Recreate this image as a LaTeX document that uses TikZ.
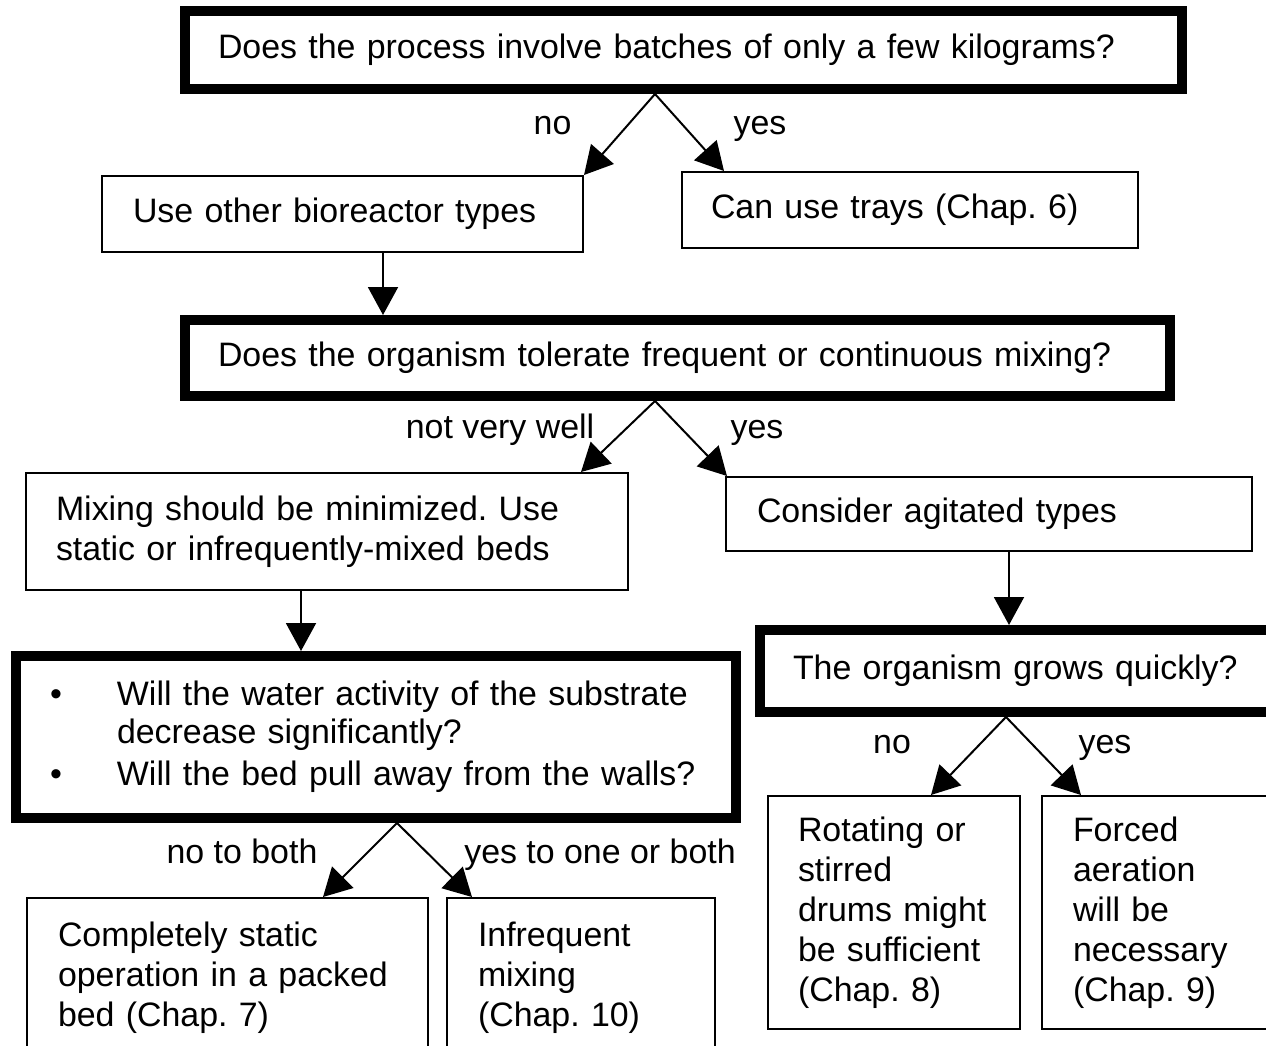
\documentclass[tikz,border=0pt]{standalone}
\usepackage{fontspec}
\setmainfont{Liberation Sans}
\usetikzlibrary{arrows.meta}
\frenchspacing
\begin{document}
\begin{tikzpicture}[x=1pt,y=-1pt,
  every node/.style={font=\fontsize{33.9}{40}\selectfont\frenchspacing, text=black},
  qbox/.style={draw, line width=10pt, inner sep=0pt, align=left},
  abox/.style={draw, line width=2pt, inner sep=0pt, align=left},
  lbl/.style={inner sep=0pt, anchor=base},
  arr/.style={line width=2pt, -{Triangle[length=28pt,width=30pt]}}]
\useasboundingbox (0,0) rectangle (1266,1046);
\clip (0,0) rectangle (1266,1046);
\fill[white] (0,0) rectangle (1266,1046);

% question boxes
\node[qbox, minimum width=997pt, minimum height=78pt, text width=931pt] (q1) at (683.5,50)
  {\mbox{Does the process involve batches of only a few kilograms?}};
\node[qbox, minimum width=985pt, minimum height=76pt, text width=919pt] (q2) at (677.5,358)
  {\mbox{Does the organism tolerate frequent or continuous mixing?}};
\node[qbox, minimum width=720pt, minimum height=162pt, text width=652pt] (q3) at (376,737)
  {\mbox{\makebox[67pt][l]{\textbullet}Will the water activity of the substrate}\\[-2pt]
   \mbox{\hspace*{67pt}decrease significantly?}\\[2pt]
   \mbox{\makebox[67pt][l]{\textbullet}Will the bed pull away from the walls?}};
\node[qbox, minimum width=560pt, minimum height=82pt, text width=494pt] (q4) at (1040,671)
  {\mbox{The organism grows quickly?}};

% answer boxes
\node[abox, minimum width=481pt, minimum height=76pt, text width=419pt] (other) at (342.5,214)
  {\mbox{Use other bioreactor types}};
\node[abox, minimum width=456pt, minimum height=76pt, text width=398pt] (trays) at (910,210)
  {\mbox{Can use trays (Chap. 6)}};
\node[abox, minimum width=602pt, minimum height=117pt, text width=542pt] (mix) at (327,531.5)
  {\mbox{Mixing should be minimized. Use}\\\mbox{static or infrequently-mixed beds}};
\node[abox, minimum width=526pt, minimum height=74pt, text width=464pt] (agit) at (989,514)
  {\mbox{Consider agitated types}};
\node[abox, minimum width=401pt, minimum height=160pt, text width=339pt] (comp) at (227.5,978)
  {\mbox{Completely static}\\\mbox{operation in a packed}\\\mbox{bed (Chap. 7)}};
\node[abox, minimum width=268pt, minimum height=160pt, text width=206pt] (infr) at (581,978)
  {\mbox{Infrequent}\\\mbox{mixing}\\\mbox{(Chap. 10)}};
\node[abox, minimum width=252pt, minimum height=233pt, text width=192pt] (rot) at (894,912.5)
  {\mbox{Rotating or}\\\mbox{stirred}\\\mbox{drums might}\\\mbox{be sufficient}\\\mbox{(Chap. 8)}};
\node[abox, minimum width=252pt, minimum height=233pt, text width=190pt] (forc) at (1168,912.5)
  {\mbox{Forced}\\\mbox{aeration}\\\mbox{will be}\\\mbox{necessary}\\\mbox{(Chap. 9)}};

% connectors
\draw[arr] ([xshift=-28.5pt]q1.south) -- (other.north east);
\draw[arr] ([xshift=-28.5pt]q1.south) -- ([xshift=43pt]trays.north west);
\draw[arr] ([xshift=40.5pt]other.south) -- ([xshift=40.5pt]other.south |- q2.north);
\draw[arr] ([xshift=-22.5pt]q2.south) -- ([xshift=-48pt]mix.north east);
\draw[arr] ([xshift=-22.5pt]q2.south) -- ([xshift=2pt]agit.north west);
\draw[arr] ([xshift=-26pt]mix.south) -- ([xshift=-26pt]mix.south |- q3.north);
\draw[arr] ([xshift=20pt]agit.south) -- ([xshift=20pt]agit.south |- q4.north);
\draw[arr] ([xshift=21pt]q3.south) -- ([xshift=-106pt]comp.north east);
\draw[arr] ([xshift=21pt]q3.south) -- ([xshift=26pt]infr.north west);
\draw[arr] ([xshift=-34pt]q4.south) -- ([xshift=-90pt]rot.north east);
\draw[arr] ([xshift=-34pt]q4.south) -- ([xshift=40pt]forc.north west);

% labels
\node[lbl] (l1) at (552.5,135) {no};
\node[lbl] (l2) at (760,135) {yes};
\node[lbl] (l3) at (500,438) {not very well};
\node[lbl] (l4) at (757,438) {yes};
\node[lbl] (l5) at (242,863) {no to both};
\node[lbl] (l6) at (600,863) {yes to one or both};
\node[lbl] (l7) at (892,753) {no};
\node[lbl] (l8) at (1105,753) {yes};
\end{tikzpicture}
\end{document}
